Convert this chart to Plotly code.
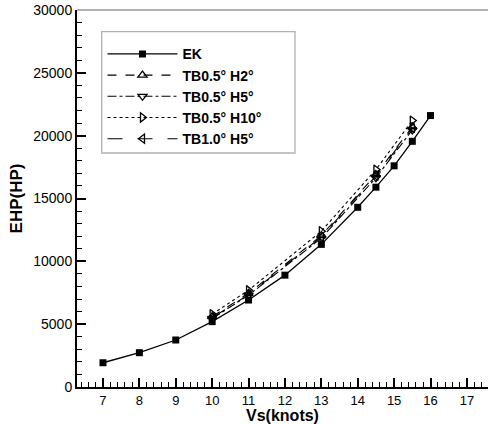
import plotly.graph_objects as go

speeds_ek = [7, 8, 9, 10, 11, 12, 13, 14, 14.5, 15, 15.5, 16]
ehp_ek = [1930, 2730, 3740, 5200, 6920, 8900, 11350, 14300, 15900, 17600, 19550, 21600]

speeds_tb = [10, 11, 13, 14.5, 15.5]
ehp_h2 = [5600, 7450, 12050, 16900, 20700]
ehp_h5 = [5450, 7300, 11850, 16650, 20450]
ehp_h10 = [5800, 7700, 12400, 17300, 21200]
ehp_tb1_h5 = [5500, 7350, 11950, 16800, 20600]

FONT = "Liberation Sans, Arial, sans-serif"

fig = go.Figure()
fig.add_trace(go.Scatter(x=speeds_ek, y=ehp_ek, name="<b>EK</b>", mode="lines+markers",
                         line=dict(color="black", width=1.3),
                         marker=dict(symbol="square", size=7, color="black")))
series = [
    ("<b>TB0.5° H2°</b>", ehp_h2, "dash", "triangle-up-open"),
    ("<b>TB0.5° H5°</b>", ehp_h5, "dashdot", "triangle-down-open"),
    ("<b>TB0.5° H10°</b>", ehp_h10, "dot", "triangle-right-open"),
    ("<b>TB1.0° H5°</b>", ehp_tb1_h5, "longdash", "triangle-left-open"),
]
for name, vals, dash, sym in series:
    fig.add_trace(go.Scatter(x=speeds_tb, y=vals, name=name, mode="lines+markers",
                             line=dict(color="black", width=1.1, dash=dash),
                             marker=dict(symbol=sym, size=8, color="black",
                                         line=dict(width=1.3, color="black"))))

fig.update_layout(
    template="simple_white",
    width=488, height=424,
    margin=dict(l=77, r=0, t=10, b=37),
    paper_bgcolor="white", plot_bgcolor="white",
    font=dict(family=FONT, size=14, color="black"),
    showlegend=True,
    legend=dict(x=0.062, y=0.925, xanchor="left", yanchor="top",
                bgcolor="rgba(0,0,0,0)", borderwidth=0,
                font=dict(family=FONT, size=14, color="black"),
                itemwidth=70, tracegroupgap=0),
    shapes=[dict(type="rect", xref="paper", yref="paper",
                 x0=(101.7 - 77) / 411, x1=(295 - 77) / 411,
                 y0=(387 - 153) / 377, y1=(387 - 31.7) / 377,
                 line=dict(color="black", width=1.3), fillcolor="white", layer="below"),
            dict(type="line", xref="paper", yref="paper", x0=0, x1=1, y0=1, y1=1,
                 line=dict(color="black", width=2))],
)
fig.update_xaxes(range=[6.286, 17.58], tickmode="linear", tick0=7, dtick=1,
                 ticks="inside", ticklen=9, tickwidth=1.5, tickcolor="black", automargin=False,
                 showline=True, linewidth=2, linecolor="black", showgrid=False, zeroline=False,
                 minor=dict(ticks="inside", ticklen=5, dtick=0.2, tick0=7, tickwidth=1, tickcolor="black",
                            showgrid=False),
                 title=dict(text="<b>Vs(knots)</b>", font=dict(size=16), standoff=0),
                 tickfont=dict(size=13))
fig.update_yaxes(range=[0, 30000], tickmode="linear", tick0=0, dtick=5000,
                 ticks="inside", ticklen=9, tickwidth=1.5, tickcolor="black", automargin=False,
                 showline=True, linewidth=2, linecolor="black", showgrid=False, zeroline=False,
                 minor=dict(ticks="inside", ticklen=5, dtick=1000, tickwidth=1, tickcolor="black",
                            showgrid=False),
                 title=dict(text="<b>EHP(HP)</b>", font=dict(size=17), standoff=6),
                 tickfont=dict(size=14), tickformat="d")
fig.write_html("out.html", config={"displayModeBar": False},
               post_script="document.body.style.margin='0';")
